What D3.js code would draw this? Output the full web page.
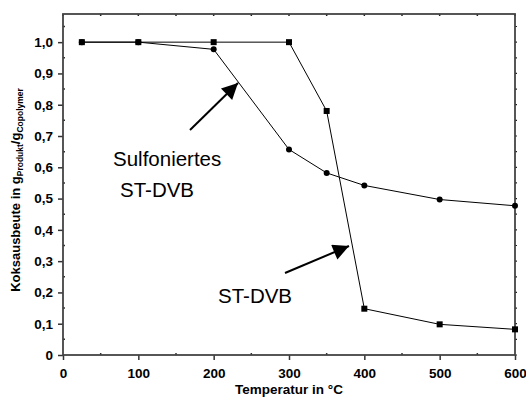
<!DOCTYPE html>
<html>
<head>
<meta charset="utf-8">
<script src="https://cdn.jsdelivr.net/npm/d3@7"></script>
<style>
  body { margin: 0; background: #fff; }
  svg { display: block; font-family: "Liberation Sans", Arial, sans-serif; }
</style>
</head>
<body>
<div id="chart"></div>
<script>
const temps = [25, 100, 200, 300, 350, 400, 500, 600];
const stdvb = [1.0, 1.0, 1.0, 1.0, 0.78, 0.148, 0.098, 0.082];
const sulfoniert = [1.0, 1.0, 0.977, 0.657, 0.582, 0.542, 0.497, 0.477];
const xTicks = [0, 100, 200, 300, 400, 500, 600];
const yTicks = [0, 0.1, 0.2, 0.3, 0.4, 0.5, 0.6, 0.7, 0.8, 0.9, 1.0];

const width = 526, height = 397;
const margin = { top: 14, left: 63, bottom: 42, right: 11 };

const svg = d3.select("#chart").append("svg")
    .attr("width", width)
    .attr("height", height);

const x = d3.scaleLinear().domain([0, 600]).range([margin.left, width - margin.right]);
const y = d3.scaleLinear().domain([0, 1.09]).range([height - margin.bottom, margin.top]);

const fmt = d => d === 0 ? "0" : d3.format(".1f")(d).replace(".", ",");

// minor ticks
const xMinor = d3.range(50, 600, 100);
const yMinor = d3.range(0.05, 1.09, 0.1);

svg.append("defs").append("marker")
    .attr("id", "head")
    .attr("viewBox", "0 0 10 10")
    .attr("refX", 10).attr("refY", 5)
    .attr("markerWidth", 20).attr("markerHeight", 16)
    .attr("markerUnits", "userSpaceOnUse")
    .attr("orient", "auto")
  .append("path").attr("d", "M0,0L10,5L0,10Z").attr("fill", "#000");

// bottom axis
const gx = svg.append("g")
    .attr("transform", `translate(0,${y(0)})`)
    .call(d3.axisBottom(x).tickValues(xTicks).tickFormat(d3.format("d")).tickSize(5).tickPadding(8));
gx.selectAll(".tick line").attr("stroke", "#333").attr("stroke-width", 1.5);
gx.selectAll(".tick text").attr("font-size", 13.5).attr("font-weight", "bold").attr("fill", "#000");
gx.select(".domain").remove();

// left axis
const gy = svg.append("g")
    .attr("transform", `translate(${x(0)},0)`)
    .call(d3.axisLeft(y).tickValues(yTicks).tickFormat(fmt).tickSize(5).tickPadding(5));
gy.selectAll(".tick line").attr("stroke", "#333").attr("stroke-width", 1.5);
gy.selectAll(".tick text").attr("font-size", 13.5).attr("font-weight", "bold").attr("fill", "#000");
gy.select(".domain").remove();

// minor ticks
svg.append("g").selectAll("line").data(xMinor).join("line")
    .attr("x1", d => x(d)).attr("x2", d => x(d))
    .attr("y1", y(0)).attr("y2", y(0) - 2)
    .attr("stroke", "#333").attr("stroke-width", 1.5);
svg.append("g").selectAll("line").data(yMinor).join("line")
    .attr("x1", x(0)).attr("x2", x(0) + 2)
    .attr("y1", d => y(d)).attr("y2", d => y(d))
    .attr("stroke", "#333").attr("stroke-width", 1.5);

// top and right tick marks
svg.append("g").selectAll("line").data(d3.range(0, 601, 50)).join("line")
    .attr("x1", d => x(d)).attr("x2", d => x(d))
    .attr("y1", margin.top).attr("y2", margin.top + 2)
    .attr("stroke", "#222").attr("stroke-width", 1.5);
svg.append("g").selectAll("line").data(d3.range(0, 1.09, 0.05)).join("line")
    .attr("x1", x(600)).attr("x2", x(600) + 2)
    .attr("y1", d => y(d)).attr("y2", d => y(d))
    .attr("stroke", "#222").attr("stroke-width", 1.2);

// frame
svg.append("rect")
    .attr("x", x(0)).attr("y", y(1.09))
    .attr("width", x(600) - x(0)).attr("height", y(0) - y(1.09))
    .attr("fill", "none").attr("stroke", "#444").attr("stroke-width", 1.8);

const line = d3.line().x(d => x(d[0])).y(d => y(d[1]));

const sqData = temps.map((t, i) => [t, stdvb[i]]);
const ciData = temps.map((t, i) => [t, sulfoniert[i]]);

svg.append("path").datum(sqData).attr("d", line)
    .attr("fill", "none").attr("stroke", "#000").attr("stroke-width", 1);
svg.append("path").datum(ciData).attr("d", line)
    .attr("fill", "none").attr("stroke", "#000").attr("stroke-width", 1);

svg.append("g").selectAll("rect").data(sqData).join("rect")
    .attr("x", d => x(d[0]) - 3).attr("y", d => y(d[1]) - 3)
    .attr("width", 6).attr("height", 6).attr("fill", "#000");
svg.append("g").selectAll("circle").data(ciData).join("circle")
    .attr("cx", d => x(d[0])).attr("cy", d => y(d[1]))
    .attr("r", 3).attr("fill", "#000");

// annotations
const notes = [
  { text: "Sulfoniertes", x: 113, y: 166 },
  { text: "ST-DVB", x: 120, y: 197 },
  { text: "ST-DVB", x: 218, y: 303 }
];
svg.append("g").selectAll("text").data(notes).join("text")
    .attr("x", d => d.x).attr("y", d => d.y)
    .attr("font-size", 20.5).attr("fill", "#000")
    .text(d => d.text);

const arrows = [
  { x1: 190, y1: 130, x2: 238, y2: 83 },
  { x1: 285, y1: 273, x2: 349, y2: 246 }
];
svg.append("g").selectAll("line").data(arrows).join("line")
    .attr("x1", d => d.x1).attr("y1", d => d.y1)
    .attr("x2", d => d.x2).attr("y2", d => d.y2)
    .attr("stroke", "#000").attr("stroke-width", 2)
    .attr("marker-end", "url(#head)");

// axis titles
svg.append("text")
    .attr("x", 289).attr("y", 394)
    .attr("text-anchor", "middle")
    .attr("font-size", 13.5).attr("font-weight", "bold")
    .text("Temperatur in °C");

const yt = svg.append("text")
    .attr("transform", `translate(20,190) rotate(-90)`)
    .attr("text-anchor", "middle")
    .attr("font-size", 13).attr("font-weight", "bold");
yt.append("tspan").text("Koksausbeute in g");
yt.append("tspan").attr("font-size", 8.5).attr("dy", 3).text("Produkt");
yt.append("tspan").attr("dy", -3).text("/g");
yt.append("tspan").attr("font-size", 8.5).attr("dy", 3).text("Copolymer");
</script>
</body>
</html>
